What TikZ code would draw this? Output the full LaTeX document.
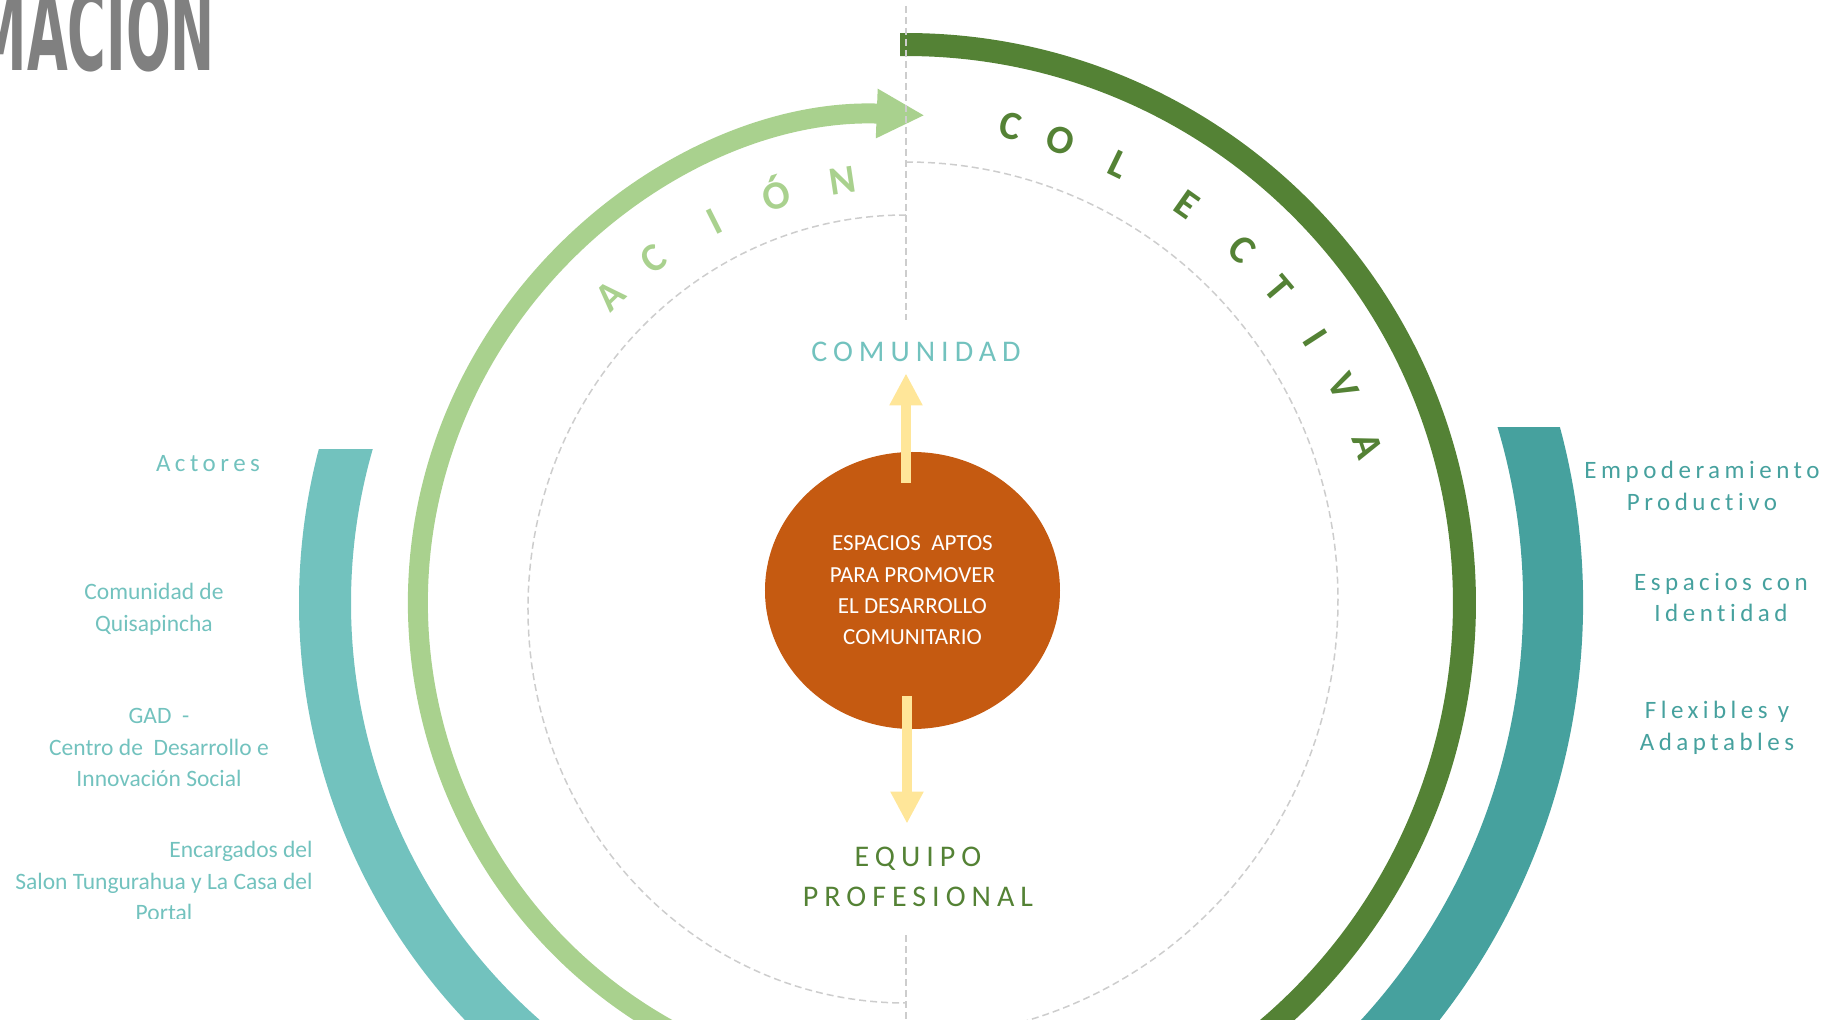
\documentclass[tikz,border=0pt]{standalone}
\usepackage{fontspec}
\setmainfont{Carlito}
\newfontfamily\titulofont{DejaVu Sans}
\usetikzlibrary{arrows.meta,shapes.geometric}

\definecolor{verdeosc}{HTML}{548235}
\definecolor{verdecla}{HTML}{A9D18E}
\definecolor{tealcla}{HTML}{72C2BE}
\definecolor{tealosc}{HTML}{46A19E}
\definecolor{naranja}{HTML}{C55A11}
\definecolor{amarillo}{HTML}{FFE699}
\definecolor{gristit}{HTML}{808080}
\definecolor{grislin}{HTML}{CDCDCD}

\begin{document}
\begin{tikzpicture}[x=1pt,y=1pt,
  guia/.style={draw=grislin,line width=1.5pt,dash pattern=on 7pt off 4pt},
  flechaam/.style={draw=amarillo,line width=10.5pt,-{Triangle[length=32pt,width=31pt]}},
  letraA/.style={font=\fontsize{40}{40}\selectfont\bfseries,text=verdecla,anchor=base,inner sep=0pt},
  letraC/.style={font=\fontsize{40}{40}\selectfont\bfseries,text=verdeosc,anchor=base,inner sep=0pt},
  grande/.style={font=\fontsize{30}{40}\selectfont\addfontfeatures{LetterSpace=20,Ligatures=NoCommon},align=center},
  chico/.style={font=\fontsize{25}{31.5}\selectfont\addfontfeatures{LetterSpace=18,Ligatures=NoCommon},align=center},
  actor/.style={font=\fontsize{23.5}{31.5}\selectfont,text=tealcla,align=center}]
  \useasboundingbox (-906,-417) rectangle (920,603);

  % Titulo recortado
  \node[font=\titulofont\bfseries\fontsize{112}{112}\selectfont,text=gristit,xscale=0.47,
        anchor=base east,inner sep=0pt] (titulo) at (-691,532) {MACION};

  % Anillos de color
  \begin{scope}
    \clip (-906,-417) rectangle (0,153);
    \draw[tealcla,line width=52pt] (150:581pt) arc[start angle=150,end angle=250,radius=581pt];
  \end{scope}
  \begin{scope}
    \clip (0,-417) rectangle (920,175);
    \draw[tealosc,line width=60pt] (30:647pt) arc[start angle=30,end angle=-60,radius=647pt];
  \end{scope}
  \draw[verdeosc,line width=23pt] (90.6:558.5pt) arc[start angle=90.6,end angle=-60,radius=558.5pt];
  \draw[verdecla,line width=20pt,-{Triangle[length=48pt,width=46pt]}]
    (245:488pt) arc[start angle=245,end angle=87.8,radius=488pt];

  % Texto curvo
  \foreach \ang/\letra [count=\i] in {133.9/A,126.2/C,116.7/I,107.6/Ó,98.5/N}
    \node[letraA,rotate=\ang-90] (accion\i) at (\ang:414pt) {\letra};
  \foreach \ang/\letra [count=\i] in {77.6/C,71.6/O,64.1/L,54.8/E,46.4/C,40.1/T,32.9/I,26.4/V,18.8/A}
    \node[letraC,rotate=\ang-90] (colectiva\i) at (\ang:475pt) {\letra};

  % Centro
  \node[ellipse,fill=naranja,minimum width=295pt,minimum height=277pt,inner sep=0pt,
        text=white,align=center,font=\fontsize{23}{31.4}\selectfont] (espacios) at (6.5,12.5)
    {ESPACIOS\ \ APTOS\\PARA PROMOVER\\EL DESARROLLO\\COMUNITARIO};
  \node[grande,text=tealcla] (comunidad) at (10,251) {COMUNIDAD};
  \node[grande,text=verdeosc] (equipo) at (12,-274) {EQUIPO\\PROFESIONAL};

  % Flechas amarillas
  \draw[flechaam] ([xshift=-6.5pt,yshift=-31pt]espacios.north) -- ([xshift=-10pt,yshift=-8pt]comunidad.south);
  \draw[flechaam] ([xshift=-5.5pt,yshift=33pt]espacios.south) -- ([xshift=-11pt,yshift=20pt]equipo.north);

  % Actores (izquierda)
  \node[chico,text=tealcla] (actores) at (-698,139) {Actores};
  \node[actor] (quisapincha) at (-752,-6) {Comunidad de\\Quisapincha};
  \node[actor] (gad) at (-747,-144.5) {GAD\ \ -\\Centro de\ \ Desarrollo e\\Innovación Social};
  \begin{scope}
    \clip (-906,-315) rectangle (-500,0);
    \node[actor] (encargados) at (-742,-280) {\begin{tabular}{@{}c@{}}\multicolumn{1}{@{}r@{}}{Encargados del}\\Salon Tungurahua y La Casa del\\Portal\end{tabular}};
  \end{scope}

  % Resultados (derecha)
  \node[chico,text=tealosc] (empoderamiento) at (796,117) {Empoderamiento\\Productivo};
  \node[chico,text=tealosc] (identidad) at (815,5.5) {Espacios con\\Identidad};
  \node[chico,text=tealosc] (flexibles) at (811,-125) {Flexibles y\\Adaptables};

  % Guias punteadas
  \draw[guia] (0,597) -- (0,283);
  \draw[guia] (0,-332) -- (0,-417);
  \draw[guia] (0,388) arc[start angle=90,end angle=270,x radius=378pt,y radius=394pt];
  \draw[guia] (0,441) arc[start angle=90,end angle=-90,x radius=432pt,y radius=438pt];
\end{tikzpicture}
\end{document}
